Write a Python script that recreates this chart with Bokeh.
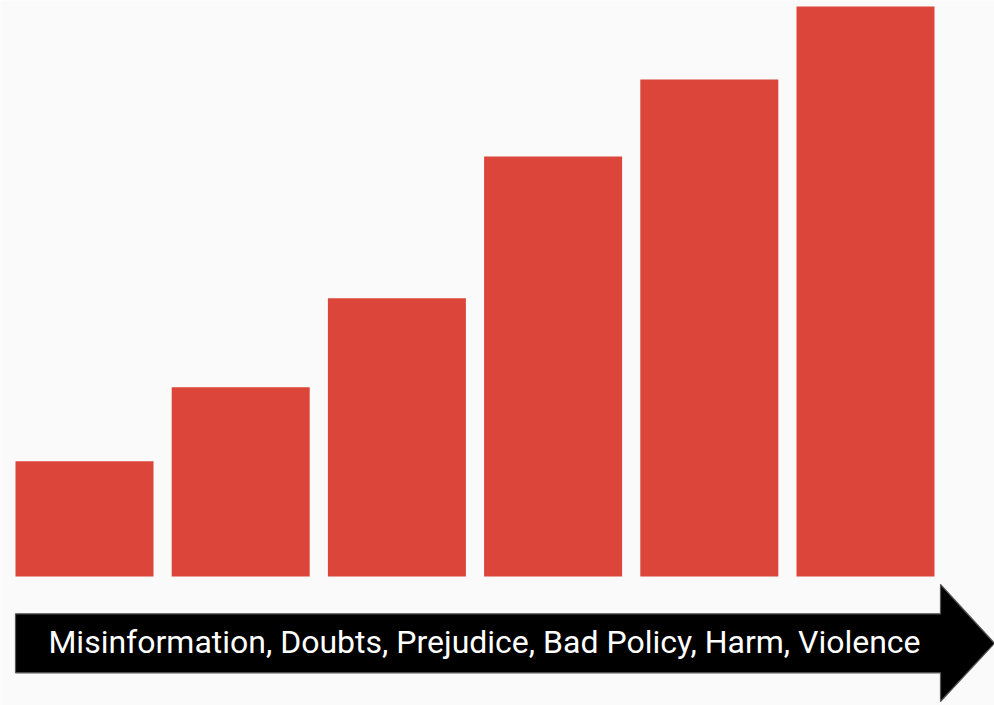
from bokeh.plotting import figure
from bokeh.models import ColumnDataSource, Range1d
from bokeh.core.properties import value
from bokeh.embed import file_html
from bokeh.resources import INLINE

# Data
stages = ["1", "2", "3", "4", "5", "6"]
heights = [20.2, 33.2, 48.8, 73.7, 87.2, 100.0]
arrow_label = "Misinformation, Doubts, Prejudice, Bad Policy, Harm, Violence"

W, H = 994, 705
PX_X = 156.2   # pixels per category step
PX_Y = 5.7     # pixels per value unit
X0 = 84.0      # pixel x of first bar centre
Y0 = 576.0     # pixel y (from top) of bar base

def dx(px):
    return (px - X0) / PX_X

def dy(py):
    return (Y0 - py) / PX_Y

p = figure(width=W, height=H, output_backend="svg", toolbar_location=None,
           x_range=Range1d(dx(0), dx(W)), y_range=Range1d(dy(H), dy(0)),
           min_border=0, min_border_left=0, min_border_right=0,
           min_border_top=0, min_border_bottom=0)
p.axis.visible = False
p.grid.visible = False
p.outline_line_color = None
p.background_fill_color = "#fafafa"
p.border_fill_color = "#fafafa"

src = ColumnDataSource(dict(x=list(range(len(stages))), top=heights))
p.vbar(x="x", top="top", bottom=0, width=138 / PX_X, source=src,
       fill_color="#dc4539", line_color=None)

# Arrow
ax = [15, 940, 940, 994, 940, 940, 15]
ay = [613.3, 613.3, 584, 642.8, 701, 672.3, 672.3]
p.patch([dx(v) for v in ax], [dy(v) for v in ay], fill_color="#000000",
        line_color="#555555", line_width=1.2)

p.text(x=[dx(484)], y=[dy(641)], text=[arrow_label], text_color="white",
       text_font=value("Roboto"), text_font_size="32px",
       text_align="center", text_baseline="alphabetic")

html = file_html(p, INLINE)
html = html.replace("<body>", '<body style="margin:0;background:#fafafa;overflow:hidden">', 1)
open("out.html", "w").write(html)
